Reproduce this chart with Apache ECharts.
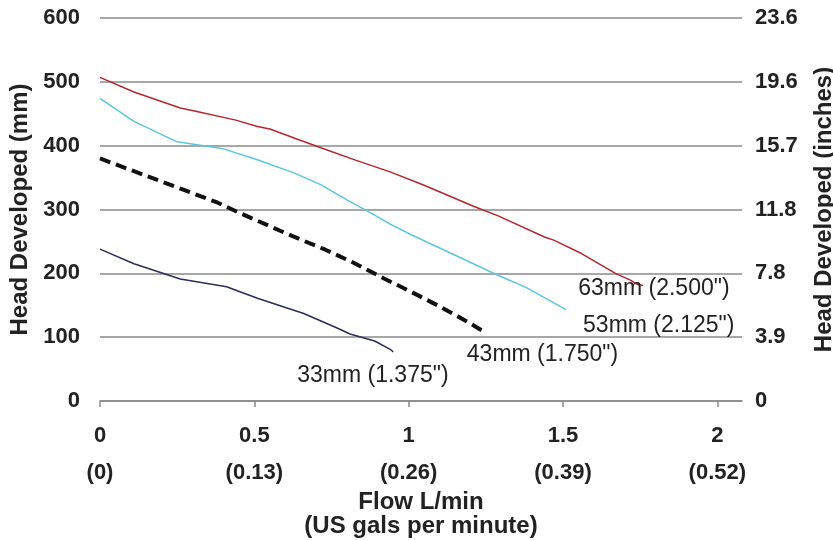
<!DOCTYPE html>
<html>
<head>
<meta charset="utf-8">
<script src="https://cdn.jsdelivr.net/npm/echarts@6/dist/echarts.min.js"></script>
<style>
  html, body { margin: 0; padding: 0; background: #fff; }
  #chart { width: 833px; height: 540px; }
</style>
</head>
<body>
<div id="chart"></div>
<script>
// flow ticks (L/min) and the matching US gal/min labels
const flowTicks = [0, 0.5, 1, 1.5, 2]
const galLabels = ['(0)', '(0.13)', '(0.26)', '(0.39)', '(0.52)']
// right axis labels, head in inches
const inchLabels = ['0', '3.9', '7.8', '11.8', '15.7', '19.6', '23.6']

// [flow L/min, head mm]
const pump63 = [[0, 507], [0.11, 484], [0.26, 459], [0.31, 454], [0.44, 440], [0.51, 430], [0.55, 426],
  [0.64, 410], [0.72, 396], [0.83, 377], [0.94, 359], [1.05, 338], [1.21, 305], [1.29, 290],
  [1.44, 257], [1.47, 252], [1.56, 231], [1.67, 200], [1.72, 189], [1.74, 183], [1.76, 181]]
const pump53 = [[0, 474], [0.11, 438], [0.25, 406], [0.40, 395], [0.51, 378], [0.63, 357], [0.715, 339],
  [0.80, 315], [0.88, 294], [0.94, 277], [1.01, 260], [1.09, 242], [1.17, 224], [1.28, 199],
  [1.38, 178], [1.51, 143]]
const pump43 = [[0, 380], [0.11, 360], [0.27, 331], [0.38, 311], [0.455, 294], [0.62, 259], [0.73, 237],
  [0.82, 217], [0.92, 192], [1.0, 173], [1.105, 147], [1.18, 127], [1.25, 107]]
const pump33 = [[0, 238], [0.11, 215], [0.26, 191], [0.41, 179], [0.51, 161], [0.66, 137], [0.77, 114],
  [0.81, 105], [0.89, 94], [0.94, 81], [0.95, 77]]

const chart = echarts.init(document.getElementById('chart'))

const lineSeries = (name, data, color, width, type, offset) => ({
  name: name,
  type: 'line',
  data: data,
  symbol: 'none',
  animation: false,
  lineStyle: { color: color, width: width, type: type },
  endLabel: {
    show: true,
    formatter: name,
    color: '#222',
    fontSize: 23,
    offset: offset
  }
})

chart.setOption({
  textStyle: { fontFamily: 'Liberation Sans, Arial, sans-serif' },
  grid: { left: 100, right: 91, top: 18, bottom: 139, outerBoundsMode: 'none' },
  xAxis: {
    type: 'value',
    min: 0,
    max: 2.08,
    name: 'Flow L/min\n(US gals per minute)',
    nameLocation: 'middle',
    nameGap: 89,
    nameTextStyle: { fontSize: 24, fontWeight: 'bold', color: '#222', lineHeight: 24 },
    axisLine: { show: true, lineStyle: { color: '#8a8a8a', width: 1.5 } },
    axisTick: { show: true, customValues: flowTicks, length: 6, lineStyle: { color: '#8a8a8a', width: 1.5 } },
    splitLine: { show: false },
    axisLabel: {
      customValues: flowTicks,
      margin: 16,
      formatter: (v) => '{a|' + v + '}\n{b|' + galLabels[flowTicks.indexOf(v)] + '}',
      rich: {
        a: { fontSize: 22, fontWeight: 'bold', color: '#222', lineHeight: 37 },
        b: { fontSize: 22, fontWeight: 'bold', color: '#222', lineHeight: 37 }
      }
    }
  },
  yAxis: [
    {
      type: 'value',
      min: 0,
      max: 600,
      interval: 100,
      name: 'Head Developed (mm)',
      nameLocation: 'middle',
      nameGap: 68,
      nameTextStyle: { fontSize: 24, fontWeight: 'bold', color: '#222' },
      axisLine: { show: false },
      axisTick: { show: false },
      axisLabel: { fontSize: 22, fontWeight: 'bold', color: '#222', margin: 20 },
      splitLine: { lineStyle: { color: '#8a8a8a', width: 1.5 } }
    },
    {
      type: 'value',
      min: 0,
      max: 600,
      interval: 100,
      position: 'right',
      name: 'Head Developed (inches)',
      nameLocation: 'middle',
      nameGap: 70,
      nameTextStyle: { fontSize: 24, fontWeight: 'bold', color: '#222' },
      axisLine: { show: false },
      axisTick: { show: false },
      axisLabel: {
        fontSize: 22,
        fontWeight: 'bold',
        color: '#222',
        margin: 13,
        formatter: (v) => inchLabels[Math.round(v / 100)]
      },
      splitLine: { show: false }
    }
  ],
  series: [
    lineSeries('63mm (2.500")', pump63, '#b3282d', 1.5, 'solid', [-73, 3]),
    lineSeries('53mm (2.125")', pump53, '#5cc6df', 1.5, 'solid', [9, 16]),
    lineSeries('43mm (1.750")', pump43, '#111111', 4, [11, 6], [-27, 22]),
    lineSeries('33mm (1.375")', pump33, '#2b2d5c', 1.5, 'solid', [-104, 24])
  ]
})
</script>
</body>
</html>
